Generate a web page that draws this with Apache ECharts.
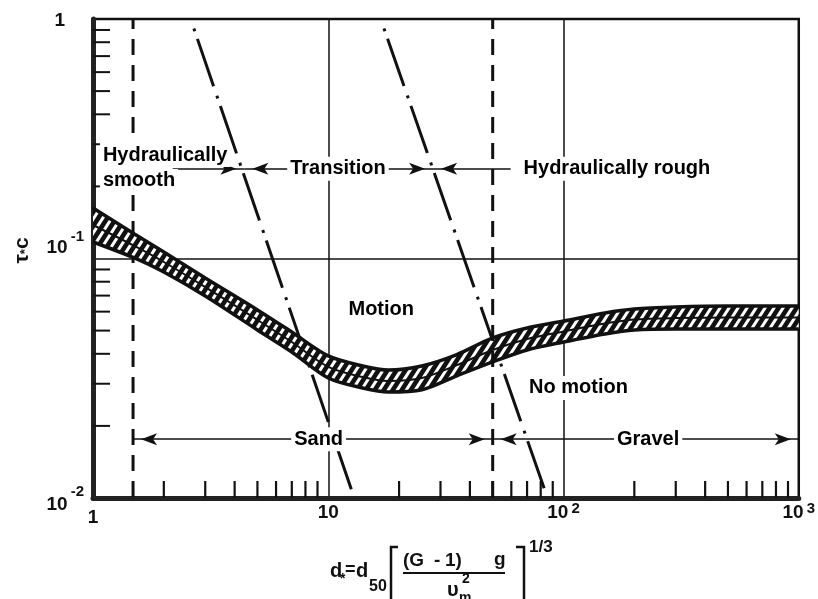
<!DOCTYPE html>
<html><head><meta charset="utf-8">
<script src="https://cdn.jsdelivr.net/npm/echarts@6/dist/echarts.min.js"></script>
<style>html,body{margin:0;padding:0;background:#fff}#c{width:818px;height:599px}</style>
</head><body><div id="c"></div>
<script>
// ---- data ----
const bandX      = [1, 1.5, 2, 3, 5, 7, 10, 14, 18, 25, 35, 50, 70, 100, 150, 200, 300, 500, 1000];
const bandUpper  = [0.1625, 0.1266, 0.1064, 0.0829, 0.0610, 0.0493, 0.0392, 0.0356, 0.0342, 0.0356, 0.0396, 0.0466, 0.0513, 0.0548, 0.0592, 0.0615, 0.0627, 0.0633, 0.0633];
const bandMiddle = [0.138, 0.1128, 0.0967, 0.0760, 0.0554, 0.0448, 0.0353, 0.0320, 0.0308, 0.0317, 0.0358, 0.0415, 0.0461, 0.0496, 0.0535, 0.0556, 0.0564, 0.0567, 0.0567];
const bandLower  = [0.1172, 0.1005, 0.0878, 0.0697, 0.0503, 0.0407, 0.0317, 0.0288, 0.0277, 0.0283, 0.0323, 0.0370, 0.0415, 0.0448, 0.0484, 0.0503, 0.0508, 0.0508, 0.0508];
const reLine1 = [[2.6, 1], [12.9, 0.01]];
const reLine2 = [[16.7, 1], [85.5, 0.01]];
const regimeBounds = [1.48, 50];
const xMinorTicks = [2,3,4,5,6,7,8,9,20,30,40,50,60,70,80,90,200,300,400,500,600,700,800,900];
const yMinorTicks = [0.02,0.03,0.04,0.05,0.06,0.07,0.08,0.09,0.2,0.3,0.4,0.5,0.6,0.7,0.8,0.9];
const xTickBase = ['1', '10', '10', '10'];
const xTickExp  = ['', '', '2', '3'];
const yTickBase = ['10', '10', '1'];
const yTickExp  = ['-2', '-1', ''];
const topArrowY = 0.237;
const topArrows = [[2.18, 4.4], [4.4, 27.9], [27.9, 59.6]];
const bottomArrowY = 0.0176;
const bottomArrows = [[1.48, 50], [50, 1000]];
const annotations = [
  {text: 'Hydraulically', x: 1.07, y: 0.2705, align: 'left'},
  {text: 'smooth', x: 1.07, y: 0.2107, align: 'left'},
  {text: 'Transition', x: 11, y: 0.237, align: 'center'},
  {text: 'Hydraulically rough', x: 65.7, y: 0.237, align: 'left'},
  {text: 'Motion', x: 16.8, y: 0.0615, align: 'center'},
  {text: 'No motion', x: 115.8, y: 0.0288, align: 'center'},
  {text: 'Sand', x: 9.1, y: 0.0176, align: 'center'},
  {text: 'Gravel', x: 229, y: 0.0176, align: 'center'}
];

// ---- rendering ----
const FONT = "'Liberation Sans', Arial, Helvetica, sans-serif";
const INK = '#111';
const hatch = (function () {
  const w = 9, h = 14;
  const c = document.createElement('canvas'); c.width = w; c.height = h;
  const g = c.getContext('2d');
  g.fillStyle = INK; g.fillRect(0, 0, w, h);
  g.strokeStyle = '#fff'; g.lineWidth = 3; g.beginPath();
  g.moveTo(-w, h); g.lineTo(w, -h);
  g.moveTo(0, h); g.lineTo(w, 0);
  g.moveTo(0, 2 * h); g.lineTo(2 * w, 0);
  g.stroke();
  return c;
})();

const chart = echarts.init(document.getElementById('c'), null, {renderer: 'canvas'});

function lg(v) { return Math.round(Math.log10(v)); }

function arrowPairs(list, yv) {
  return list.map(function (seg) {
    return [
      {coord: [seg[0], yv], symbol: 'arrow', symbolSize: [9, 16], symbolOffset: [0, 8]},
      {coord: [seg[1], yv], symbol: 'arrow', symbolSize: [9, 16], symbolOffset: [0, 8]}
    ];
  });
}
const topPairs = arrowPairs(topArrows, topArrowY);
topPairs[0][0].symbol = 'none';
topPairs[2][1].symbol = 'none';
const allPairs = topPairs.concat(arrowPairs(bottomArrows, bottomArrowY));

function txt(text, x, cy, size, extra) {
  return Object.assign({
    type: 'text', x: x, y: cy, z: 100,
    style: {text: text, font: 'bold ' + size + 'px ' + FONT, fill: INK, align: 'left', verticalAlign: 'middle'}
  }, extra || {});
}

const option = {
  animation: false,
  backgroundColor: '#fff',
  grid: {left: 93, right: 17, top: 19, bottom: 101, show: true, borderColor: INK, borderWidth: 2.5, backgroundColor: 'transparent'},
  xAxis: {
    type: 'log', logBase: 10, min: 1, max: 1000,
    axisLine: {show: true, lineStyle: {color: '#222', width: 5}},
    axisTick: {show: false},
    splitLine: {show: true, lineStyle: {color: INK, width: 1.5}},
    minorTick: {show: false},
    axisLabel: {
      margin: 0, color: INK, fontFamily: FONT,
      formatter: function (v) {
        const i = lg(v);
        return '{' + (i === 0 ? 'c' : 'b') + '|' + xTickBase[i] + '}' + (xTickExp[i] ? '{s|' + xTickExp[i] + '}' : '');
      },
      rich: {
        c: {fontSize: 19, fontWeight: 'bold', lineHeight: 29, padding: [10, 0, 0, 0], fontFamily: FONT, color: INK},
        b: {fontSize: 19, fontWeight: 'bold', lineHeight: 29, fontFamily: FONT, color: INK},
        s: {fontSize: 15, fontWeight: 'bold', padding: [0, 0, 7, 3], fontFamily: FONT, color: INK}
      }
    }
  },
  yAxis: {
    type: 'log', logBase: 10, min: 0.01, max: 1,
    axisLine: {show: true, lineStyle: {color: '#222', width: 5}},
    axisTick: {show: false},
    splitLine: {show: true, lineStyle: {color: INK, width: 1.5}},
    name: '{a|τ}{b|*}{a|c}',
    nameLocation: 'middle', nameGap: 60,
    nameTextStyle: {
      fontFamily: FONT, color: INK, padding: [0, 0, 0, 16],
      rich: {
        a: {fontSize: 21, fontWeight: 'bold', fontFamily: FONT, color: INK},
        b: {fontSize: 13, fontWeight: 'bold', padding: [6, 0, 0, 0], fontFamily: FONT, color: INK}
      }
    },
    axisLabel: {
      margin: 9, color: INK, fontFamily: FONT,
      formatter: function (v) {
        const i = lg(v) + 2;
        return '{b' + i + '|' + yTickBase[i] + '}' + (yTickExp[i] ? '{s' + i + '|' + yTickExp[i] + '}' : '');
      },
      rich: {
        b0: {fontSize: 19, fontWeight: 'bold', padding: [14, 0, 0, 0], fontFamily: FONT, color: INK},
        s0: {fontSize: 15, fontWeight: 'bold', padding: [0, 0, 12, 3], fontFamily: FONT, color: INK},
        b1: {fontSize: 19, fontWeight: 'bold', padding: [0, 0, 22, 0], fontFamily: FONT, color: INK},
        s1: {fontSize: 15, fontWeight: 'bold', padding: [0, 0, 44, 3], fontFamily: FONT, color: INK},
        b2: {fontSize: 19, fontWeight: 'bold', padding: [4, 19, 0, 0], fontFamily: FONT, color: INK}
      }
    }
  },
  series: [
    {
      type: 'custom', coordinateSystem: 'cartesian2d', silent: true, z: 3, clip: true,
      data: [[bandX[0], bandUpper[0]]],
      renderItem: function (params, api) {
        const pts = [];
        for (let i = 0; i < bandX.length; i++) pts.push(api.coord([bandX[i], bandUpper[i]]));
        for (let i = bandX.length - 1; i >= 0; i--) pts.push(api.coord([bandX[i], bandLower[i]]));
        return {type: 'polygon', shape: {points: pts}, style: {fill: {image: hatch, repeat: 'repeat'}, stroke: null}};
      }
    },
    {type: 'line', data: bandX.map(function (x, i) { return [x, bandUpper[i]]; }), smooth: 0.3, symbol: 'none', silent: true, z: 4, lineStyle: {color: INK, width: 3.5}},
    {type: 'line', data: bandX.map(function (x, i) { return [x, bandMiddle[i]]; }), smooth: 0.3, symbol: 'none', silent: true, z: 4, lineStyle: {color: INK, width: 2}},
    {type: 'line', data: bandX.map(function (x, i) { return [x, bandLower[i]]; }), smooth: 0.3, symbol: 'none', silent: true, z: 4, lineStyle: {color: INK, width: 3.5}},
    {type: 'line', data: reLine1, symbol: 'none', silent: true, z: 2, lineStyle: {color: INK, width: 3, type: [50, 10, 3, 8], dashOffset: 50}},
    {type: 'line', data: reLine2, symbol: 'none', silent: true, z: 2, lineStyle: {color: INK, width: 3, type: [50, 10, 3, 8], dashOffset: 50}},
    {type: 'line', data: [[regimeBounds[0], 1], [regimeBounds[0], 0.01]], symbol: 'none', silent: true, z: 2, lineStyle: {color: INK, width: 3, type: [16, 10], dashOffset: 6}},
    {
      type: 'line', data: [[regimeBounds[1], 1], [regimeBounds[1], 0.01]], symbol: 'none', silent: true, z: 6,
      lineStyle: {color: INK, width: 3, type: [16, 10], dashOffset: 6},
      markLine: {
        silent: true, symbol: ['arrow', 'arrow'], symbolSize: [9, 16],
        lineStyle: {color: INK, width: 1.5, type: 'solid'},
        itemStyle: {color: '#444'},
        label: {show: false}, emphasis: {disabled: true},
        data: allPairs
      }
    },
    {
      type: 'custom', coordinateSystem: 'cartesian2d', silent: true, z: 5, clip: false,
      data: xMinorTicks.map(function (v) { return [v, 0.01]; }),
      renderItem: function (params, api) {
        const p = api.coord([api.value(0), api.value(1)]);
        return {type: 'line', shape: {x1: p[0], y1: p[1], x2: p[0], y2: p[1] - 17}, style: {stroke: INK, lineWidth: 2.2}};
      }
    },
    {
      type: 'custom', coordinateSystem: 'cartesian2d', silent: true, z: 5, clip: false,
      data: yMinorTicks.map(function (v) { return [1, v]; }),
      renderItem: function (params, api) {
        const p = api.coord([api.value(0), api.value(1)]);
        return {type: 'line', shape: {x1: p[0], y1: p[1], x2: p[0] + 17, y2: p[1]}, style: {stroke: INK, lineWidth: 2}};
      }
    },
    {
      type: 'scatter', silent: true, z: 10, symbolSize: 1, itemStyle: {color: 'rgba(0,0,0,0)', opacity: 1},
      data: annotations.map(function (a) {
        return {value: [a.x, a.y], label: {formatter: a.text, align: a.align}};
      }),
      label: {
        show: true, position: 'inside', fontFamily: FONT, fontSize: 20, fontWeight: 'bold', color: '#000', opacity: 1,
        backgroundColor: '#fff', padding: [2, 3, 0, 3], lineHeight: 22, verticalAlign: 'middle'
      }
    }
  ],
  graphic: {
    elements: [
      txt('d', 330, 571, 20),
      txt('*', 340, 579, 14),
      txt('=', 345, 570, 18),
      txt('d', 356, 571, 20),
      txt('50', 369, 587, 16),
      {type: 'polyline', z: 100, shape: {points: [[398, 547], [391, 547], [391, 604], [398, 604]]}, style: {stroke: INK, lineWidth: 2.5, fill: null}},
      txt('(G', 403, 561, 19),
      txt('-', 434, 561, 19),
      txt('1)', 445, 561, 19),
      txt('g', 494, 560, 19),
      {type: 'line', z: 100, shape: {x1: 403, y1: 573, x2: 505, y2: 573}, style: {stroke: INK, lineWidth: 2}},
      txt('υ', 447, 590, 20),
      txt('2', 462, 579, 14),
      txt('m', 459, 598, 14),
      {type: 'polyline', z: 100, shape: {points: [[516, 547], [524, 547], [524, 604], [516, 604]]}, style: {stroke: INK, lineWidth: 2.5, fill: null}},
      txt('1/3', 529, 547, 17)
    ]
  }
};
chart.setOption(option);
</script>
</body></html>
